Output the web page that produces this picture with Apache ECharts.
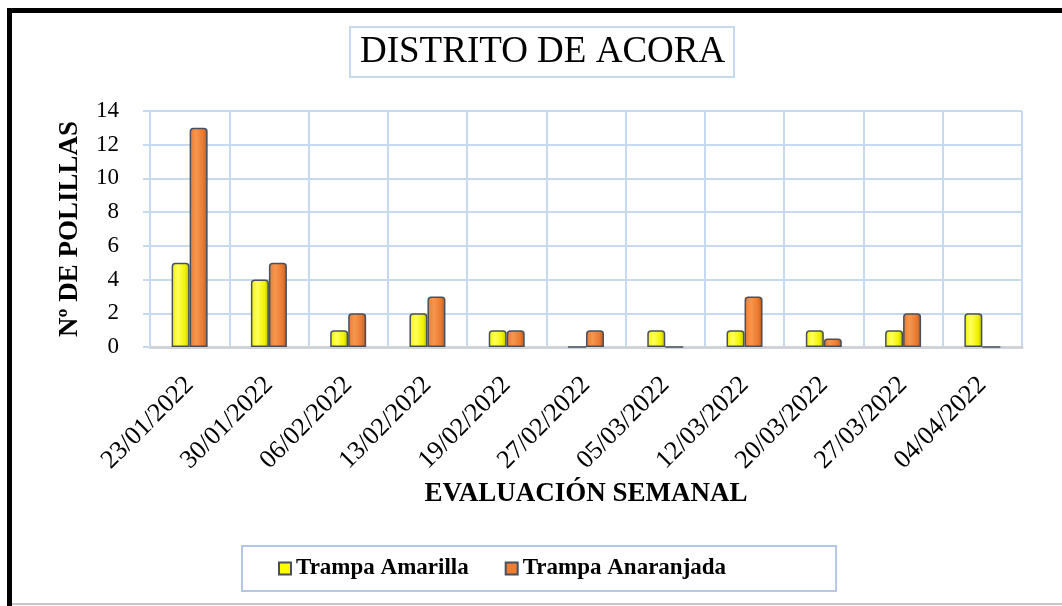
<!DOCTYPE html>
<html>
<head>
<meta charset="utf-8">
<title>Distrito de Acora</title>
<script src="https://cdn.jsdelivr.net/npm/echarts@6/dist/echarts.min.js"></script>
<style>
    html, body { margin: 0; padding: 0; background: #fff; }
    #chart { width: 1062px; height: 606px; }
</style>
</head>
<body>
<div id="chart"></div>
<script>
// weekly evaluation dates
const fechas = ['23/01/2022', '30/01/2022', '06/02/2022', '13/02/2022', '19/02/2022',
    '27/02/2022', '05/03/2022', '12/03/2022', '20/03/2022', '27/03/2022', '04/04/2022'];
// moths caught per trap
const trampaAmarilla = [5, 4, 1, 2, 1, 0, 1, 1, 1, 1, 2];
const trampaAnaranjada = [13, 5, 2, 3, 1, 1, 0, 3, 0.5, 2, 0];
const yTicks = { min: 0, max: 14, interval: 2 };

const serif = '"Liberation Serif", "Times New Roman", serif';
const gridBlue = '#C5D9F1';
const barBorder = '#46505E';

// fake cylinder look with a horizontal gradient
function cylinder(dark, mid, light) {
    return new echarts.graphic.LinearGradient(0, 0, 1, 0, [
        { offset: 0, color: mid },
        { offset: 0.35, color: light },
        { offset: 0.75, color: mid },
        { offset: 1, color: dark }
    ]);
}

const chart = echarts.init(document.getElementById('chart'), null, { renderer: 'canvas' });

const option = {
    backgroundColor: '#fff',
    animation: false,
    title: {
        text: 'DISTRITO DE ACORA',
        left: 350,
        top: 27,
        padding: [6, 9, 6, 10],
        borderColor: gridBlue,
        borderWidth: 2,
        textStyle: { fontFamily: serif, fontSize: 37, fontWeight: 'normal', color: '#000', lineHeight: 38 }
    },
    legend: {
        left: 242,
        top: 546,
        padding: [11, 110, 11, 36],
        borderColor: '#B4C7E7',
        borderWidth: 2,
        itemWidth: 12,
        itemHeight: 12,
        itemGap: 36,
        textStyle: { fontFamily: serif, fontSize: 23, fontWeight: 'bold', color: '#000' },
        data: [
            { name: 'Trampa Amarilla', icon: 'rect', itemStyle: { color: '#FFFF00', borderColor: barBorder, borderWidth: 2 } },
            { name: 'Trampa Anaranjada', icon: 'rect', itemStyle: { color: '#ED7D31', borderColor: barBorder, borderWidth: 2 } }
        ]
    },
    grid: { left: 150, right: 40, top: 111, bottom: 259 },
    xAxis: {
        type: 'category',
        data: fechas,
        name: 'EVALUACIÓN SEMANAL',
        nameLocation: 'middle',
        nameGap: 134,
        nameTextStyle: { fontFamily: serif, fontSize: 27, fontWeight: 'bold', color: '#000' },
        axisLine: { show: true, lineStyle: { color: '#D0D4D9', width: 3 } },
        axisTick: { show: false },
        axisLabel: { rotate: 45, margin: 34, fontFamily: serif, fontSize: 26, color: '#000' },
        splitLine: { show: true, lineStyle: { color: gridBlue, width: 2 } }
    },
    yAxis: {
        type: 'value',
        min: yTicks.min,
        max: yTicks.max,
        interval: yTicks.interval,
        name: 'Nº DE POLILLAS',
        nameLocation: 'middle',
        nameGap: 66,
        nameTextStyle: { fontFamily: serif, fontSize: 27, fontWeight: 'bold', color: '#000' },
        axisLine: { show: false },
        axisTick: { show: true, length: 7, lineStyle: { color: gridBlue, width: 2 } },
        axisLabel: { margin: 31, fontFamily: serif, fontSize: 23, color: '#000' },
        splitLine: { show: true, lineStyle: { color: gridBlue, width: 2 } }
    },
    series: [
        {
            name: 'Trampa Amarilla',
            type: 'bar',
            data: trampaAmarilla,
            barWidth: 18,
            barGap: '0%',
            itemStyle: {
                color: cylinder('#B8B800', '#F2F200', '#FFFF5A'),
                borderColor: barBorder,
                borderWidth: 1.5,
                borderRadius: [3, 3, 0, 0]
            }
        },
        {
            name: 'Trampa Anaranjada',
            type: 'bar',
            data: trampaAnaranjada,
            barWidth: 18,
            itemStyle: {
                color: cylinder('#B25A1E', '#EA7A30', '#F6964F'),
                borderColor: barBorder,
                borderWidth: 1.5,
                borderRadius: [3, 3, 0, 0]
            }
        }
    ],
    // outer frame of the pasted picture
    graphic: [
        { type: 'rect', shape: { x: 7, y: 8, width: 1055, height: 5 }, style: { fill: '#000' }, z: 100 },
        { type: 'rect', shape: { x: 7, y: 8, width: 5, height: 598 }, style: { fill: '#000' }, z: 100 },
        { type: 'rect', shape: { x: 12, y: 603, width: 1050, height: 2 }, style: { fill: '#C8C8C8' }, z: 100 }
    ]
};

chart.setOption(option);
</script>
</body>
</html>
